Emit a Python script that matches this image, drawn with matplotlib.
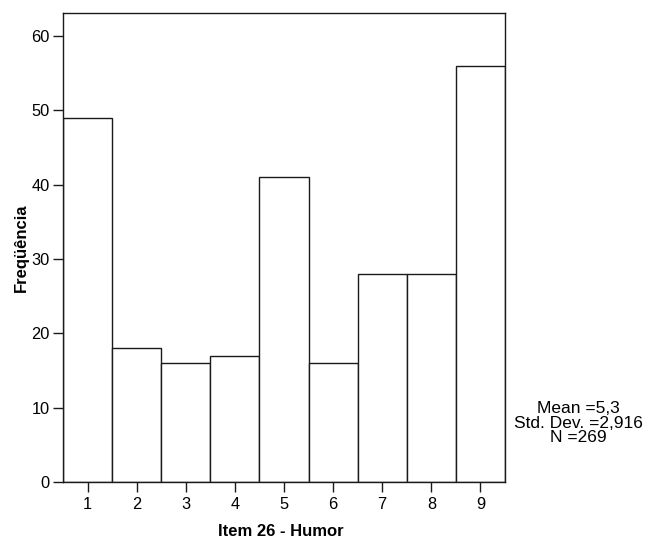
import matplotlib
matplotlib.use("Agg")
import matplotlib.pyplot as plt

plt.rcParams['font.family'] = ['Liberation Sans', 'DejaVu Sans']

# Frequency of each answer for item 26
categories = [1, 2, 3, 4, 5, 6, 7, 8, 9]
counts = [49, 18, 16, 17, 41, 16, 28, 28, 56]
y_ticks = [0, 10, 20, 30, 40, 50, 60]
stats_text = "Mean =5,3\nStd. Dev. =2,916\nN =269"

W, H = 646, 543
fig = plt.figure(figsize=(W / 100, H / 100), dpi=100)
left, right, top, bottom = 63, 505, 13, 482
ax = fig.add_axes([left / W, 1 - bottom / H, (right - left) / W, (bottom - top) / H])

ax.bar(categories, counts, width=1.0, color="white", edgecolor="#1a1a1a", linewidth=1.0)

ax.set_xlim(0.5, 9.5)
ax.set_ylim(0, 63.1)
ax.set_xticks(categories)
ax.set_yticks(y_ticks)
ax.tick_params(axis="both", direction="out", length=7.5, width=1.0, color="#1a1a1a",
               labelsize=11.8, pad=2)
ax.tick_params(axis="x", pad=3)
for s in ax.spines.values():
    s.set_linewidth(1.0)
    s.set_color("#1a1a1a")

ax.set_xlabel("Item 26 - Humor", fontsize=12, fontweight="bold")
ax.set_ylabel("Freqüência", fontsize=12, fontweight="bold")
ax.xaxis.set_label_coords((281 - left) / (right - left), (bottom - 531) / (bottom - top))
ax.yaxis.set_label_coords((21 - left) / (right - left), (bottom - 248) / (bottom - top))
ax.xaxis.label.set_va("center")
ax.yaxis.label.set_va("center")

fig.text(578 / W, 1 - 423 / H, stats_text, ha="center", va="center",
         fontsize=12.5, linespacing=0.92)

fig.savefig("out.png", dpi=100)
